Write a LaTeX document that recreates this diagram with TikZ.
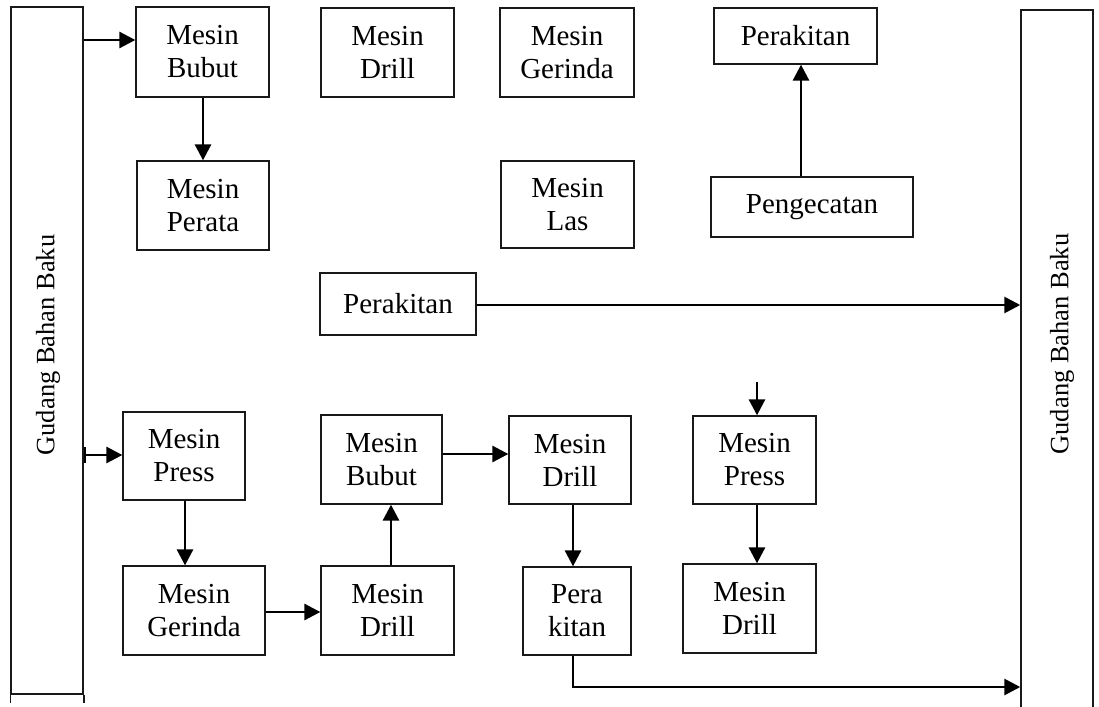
\documentclass[tikz,border=0pt]{standalone}
\usepackage{fontspec}
\setmainfont{Liberation Serif}
\usetikzlibrary{arrows.meta}
\tikzset{
  box/.style={draw=black!90, line width=1.3pt, inner sep=0pt, align=center,
    font=\fontsize{29}{33}\selectfont},
  tall/.style={draw=black!90, line width=1.5pt, inner sep=0pt},
  talltext/.style={rotate=90, inner sep=0pt, font=\fontsize{26.5}{30}\selectfont},
  arr/.style={line width=2.8pt, -{Triangle[length=16pt,width=16pt]}},
  bararr/.style={line width=2.8pt, {Bar[width=16pt,line width=1.8pt]}-{Triangle[length=16pt,width=16pt]}},
  ln/.style={line width=1.5pt, draw=black!90},
}
\begin{document}
\begin{tikzpicture}[x=1pt,y=-1pt]
\useasboundingbox (0,0) rectangle (1099,706);
% warehouses
\node[tall, minimum width=72pt, minimum height=687pt] (gudangL) at (47,350.5) {};
\node[talltext] (gudangLt) at (48,345) {Gudang Bahan Baku};
\draw[ln] (gudangL.south west) -- ++(0,8);
\draw[ln] (gudangL.south east) -- ++(0,8);
\node[tall, minimum width=72pt, minimum height=720pt] (gudangR) at (1057,370) {};
\node[talltext] (gudangRt) at (1062,344) {Gudang Bahan Baku};
% top area
\node[box, minimum width=133pt, minimum height=90pt] (bubutA) at (202.5,52) {Mesin\\Bubut};
\node[box, minimum width=132pt, minimum height=89pt] (perata) at (203,205.5) {Mesin\\Perata};
\node[box, minimum width=133pt, minimum height=89pt] (drillA) at (387.5,52.5) {Mesin\\Drill};
\node[box, minimum width=134pt, minimum height=89pt] (gerindaA) at (567,52.5) {Mesin\\Gerinda};
\node[box, minimum width=133pt, minimum height=87pt] (las) at (567.5,204.5) {Mesin\\Las};
\node[box, minimum width=163pt, minimum height=56pt] (perakitanA) at (795.5,36) {Perakitan};
\node[box, minimum width=202pt, minimum height=60pt] (pengecatan) at (812,207) {Pengecatan};
\node[box, minimum width=156pt, minimum height=62pt] (perakitanB) at (398,304) {Perakitan};
% bottom area
\node[box, minimum width=122pt, minimum height=88pt] (pressA) at (184,456) {Mesin\\Press};
\node[box, minimum width=142pt, minimum height=89pt] (gerindaB) at (194,610.5) {Mesin\\Gerinda};
\node[box, minimum width=133pt, minimum height=89pt] (drillB) at (387.5,610.5) {Mesin\\Drill};
\node[box, minimum width=121pt, minimum height=89pt] (bubutB) at (381.5,459.5) {Mesin\\Bubut};
\node[box, minimum width=122pt, minimum height=88pt] (drillC) at (570,460) {Mesin\\Drill};
\node[box, minimum width=108pt, minimum height=88pt] (perakitanC) at (577,611) {Pera\\kitan};
\node[box, minimum width=123pt, minimum height=88pt] (pressB) at (754.5,460) {Mesin\\Press};
\node[box, minimum width=133pt, minimum height=89pt] (drillD) at (749.5,608.5) {Mesin\\Drill};
\coordinate (pressBin) at (757,382);
% connectors
\draw[arr] (gudangL.east |- 0,40) -- (bubutA.west |- 0,40);
\draw[arr] (bubutA.south -| 203,0) -- (perata.north -| 203,0);
\draw[arr] (pengecatan.north -| 801,0) -- (perakitanA.south -| 801,0);
\draw[arr] (perakitanB.east |- 0,305) -- (gudangR.west |- 0,305);
\draw[bararr] (gudangL.east |- 0,455) -- (pressA.west |- 0,455);
\draw[arr] (pressA.south -| 185,0) -- (gerindaB.north -| 185,0);
\draw[arr] (gerindaB.east |- 0,612) -- (drillB.west |- 0,612);
\draw[arr] (drillB.north -| 391,0) -- (bubutB.south -| 391,0);
\draw[arr] (bubutB.east |- 0,454) -- (drillC.west |- 0,454);
\draw[arr] (drillC.south -| 573,0) -- (perakitanC.north -| 573,0);
\draw[arr] (perakitanC.south -| 573,0) |- (gudangR.west |- 0,687);
\draw[arr] (pressBin) -- (pressB.north -| pressBin);
\draw[arr] (pressB.south -| 757,0) -- (drillD.north -| 757,0);
\end{tikzpicture}
\end{document}
